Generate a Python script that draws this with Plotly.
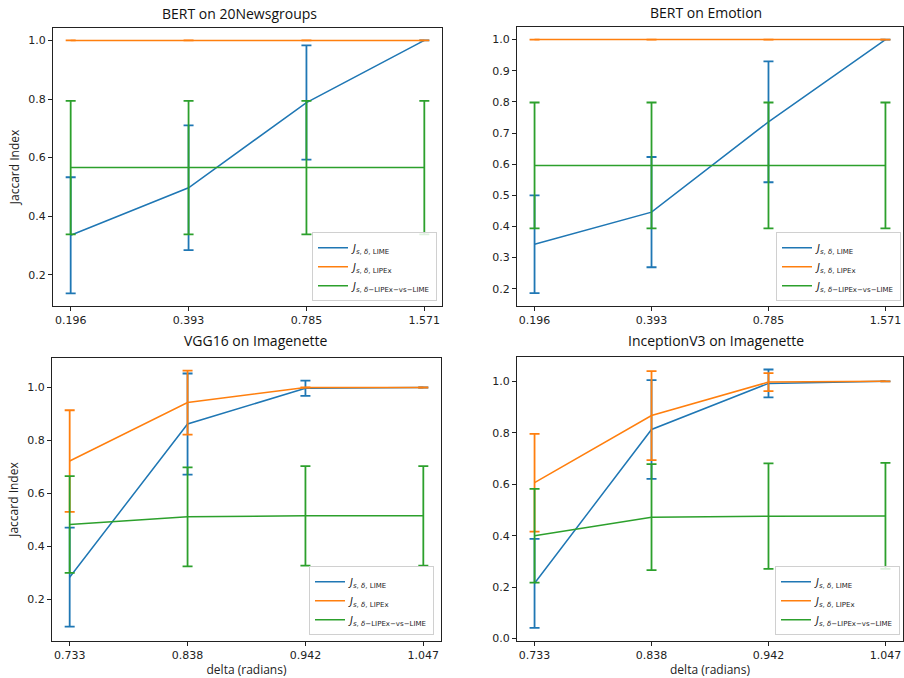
import plotly.graph_objects as go

# ---------------- data ----------------
delta_text = ["0.196", "0.393", "0.785", "1.571"]
delta_image = ["0.733", "0.838", "0.942", "1.047"]

news_lime = [0.335, 0.497, 0.788, 1.0]
news_lime_err = [0.198, 0.213, 0.195, 0.0]
news_lipex = [1.0, 1.0, 1.0, 1.0]
news_lipex_err = [0.0, 0.0, 0.0, 0.0]
news_cross = [0.566, 0.566, 0.566, 0.566]
news_cross_err = [0.228, 0.228, 0.228, 0.228]

emo_lime = [0.343, 0.446, 0.736, 1.0]
emo_lime_err = [0.157, 0.177, 0.194, 0.0]
emo_lipex = [1.0, 1.0, 1.0, 1.0]
emo_lipex_err = [0.0, 0.0, 0.0, 0.0]
emo_cross = [0.596, 0.596, 0.596, 0.596]
emo_cross_err = [0.202, 0.202, 0.202, 0.202]

vgg_lime = [0.283, 0.862, 0.997, 1.0]
vgg_lime_err = [0.187, 0.191, 0.029, 0.0]
vgg_lipex = [0.722, 0.943, 1.0, 1.0]
vgg_lipex_err = [0.192, 0.121, 0.0, 0.0]
vgg_cross = [0.482, 0.511, 0.515, 0.515]
vgg_cross_err = [0.183, 0.187, 0.188, 0.188]

inc_lime = [0.215, 0.813, 0.992, 1.0]
inc_lime_err = [0.173, 0.192, 0.054, 0.0]
inc_lipex = [0.606, 0.867, 0.997, 1.0]
inc_lipex_err = [0.190, 0.173, 0.035, 0.0]
inc_cross = [0.400, 0.472, 0.476, 0.477]
inc_cross_err = [0.182, 0.206, 0.205, 0.206]

titles = ["BERT on 20Newsgroups", "BERT on Emotion", "VGG16 on Imagenette", "InceptionV3 on Imagenette"]
series_names = [
    "<i>J</i><sub><i>s</i>, <i>δ</i>, LIME</sub>",
    "<i>J</i><sub><i>s</i>, <i>δ</i>, LIPEx</sub>",
    "<i>J</i><sub><i>s</i>, <i>δ</i>−LIPEx−vs−LIME</sub>",
]
colors = ["#1f77b4", "#ff7f0e", "#2ca02c"]

panels = [
    (delta_text, [(news_lime, news_lime_err), (news_lipex, news_lipex_err), (news_cross, news_cross_err)]),
    (delta_text, [(emo_lime, emo_lime_err), (emo_lipex, emo_lipex_err), (emo_cross, emo_cross_err)]),
    (delta_image, [(vgg_lime, vgg_lime_err), (vgg_lipex, vgg_lipex_err), (vgg_cross, vgg_cross_err)]),
    (delta_image, [(inc_lime, inc_lime_err), (inc_lipex, inc_lipex_err), (inc_cross, inc_cross_err)]),
]

W, H = 904, 678
# panel boxes in pixels: (left, right, top, bottom)
boxes = [(53, 442, 28, 308), (517, 903, 27, 308), (52, 441, 360, 645), (517, 903, 359, 645)]
yranges = [[0.093, 1.043], [0.144, 1.041], [0.041, 1.112], [-0.010, 1.095]]
ydticks = [(0.2, 0.2), (0.2, 0.1), (0.2, 0.2), (0.0, 0.2)]
title_pos = [(239, 14), (706, 13), (256, 343), (716, 343)]
legend_pos = [(437, 303), (901, 303), (434, 639), (900, 639)]

fig = go.Figure()
tick_font = dict(family="DejaVu Sans", size=11, color="#222")
label_font = dict(family="Open Sans", size=12, color="#222")

layout = dict(
    width=W, height=H,
    margin=dict(l=0, r=0, t=0, b=0),
    paper_bgcolor="white", plot_bgcolor="white",
    showlegend=True,
    annotations=[],
)

for i, (xcats, series) in enumerate(panels):
    n = i + 1
    xa = "x" if n == 1 else f"x{n}"
    ya = "y" if n == 1 else f"y{n}"
    lg = "legend" if n == 1 else f"legend{n}"
    for (vals, errs), name, col in zip(series, series_names, colors):
        fig.add_trace(go.Scatter(
            x=xcats, y=vals, name=name, mode="lines",
            line=dict(color=col, width=1.5),
            error_y=dict(type="data", array=errs, visible=True, color=col, thickness=1.8, width=5),
            xaxis=xa, yaxis=ya, legend=lg,
        ))
    l, r, t, b = boxes[i]
    axis_common = dict(showline=True, mirror=True, linecolor="#222", linewidth=1,
                       ticks="outside", ticklen=4, tickcolor="#222", showgrid=False,
                       zeroline=False, tickfont=tick_font)
    xdict = dict(domain=[l / W, r / W], anchor=ya, type="category",
                 range=[-0.15, 3.15], **axis_common)
    if n >= 3:
        xdict["title"] = dict(text="delta (radians)", font=label_font, standoff=6)
    layout["xaxis" if n == 1 else f"xaxis{n}"] = xdict
    t0, dt = ydticks[i]
    ydict = dict(domain=[1 - b / H, 1 - t / H], anchor=xa, range=yranges[i],
                 tick0=t0, dtick=dt, tickformat=".1f", **axis_common)
    if n in (1, 3):
        ydict["title"] = dict(text="Jaccard Index", font=label_font, standoff=6)
    layout["yaxis" if n == 1 else f"yaxis{n}"] = ydict
    lx, ly = legend_pos[i]
    layout[lg] = dict(
        x=lx / W, y=1 - ly / H, xanchor="right", yanchor="bottom",
        bgcolor="rgba(255,255,255,0.85)", bordercolor="#d0d0d0", borderwidth=1,
        font=dict(family="DejaVu Sans", size=10, color="#222"),
        tracegroupgap=0, itemwidth=30,
    )
    tx, ty = title_pos[i]
    layout["annotations"].append(dict(
        text=titles[i], x=tx / W, y=1 - ty / H, xref="paper", yref="paper",
        showarrow=False, xanchor="center", yanchor="middle",
        font=dict(family="Open Sans", size=14, color="#111"),
    ))

fig.update_layout(**layout)
fig.write_html("out.html")
